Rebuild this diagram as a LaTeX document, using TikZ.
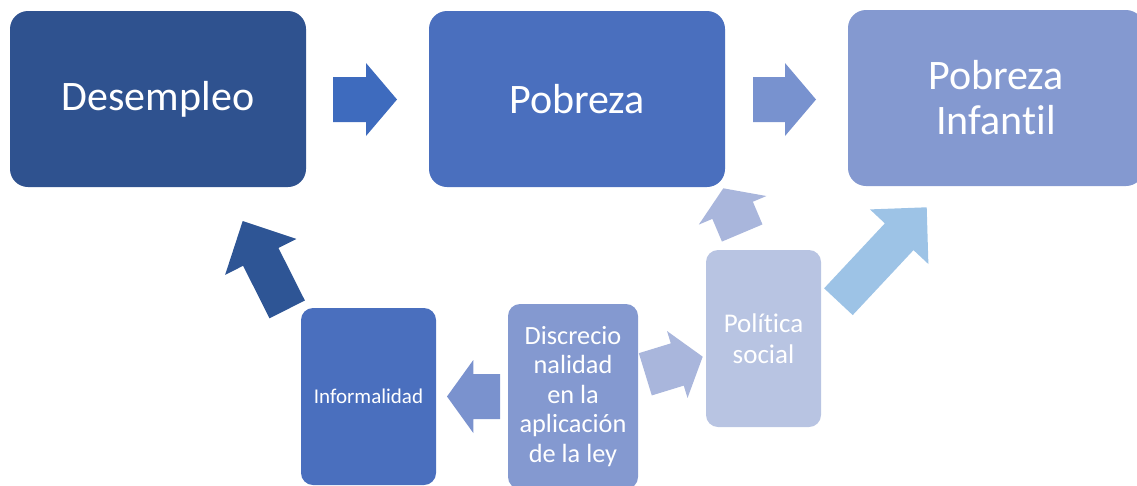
\documentclass[tikz,border=0pt]{standalone}
\usepackage{fontspec}
\setmainfont{Carlito}[Ligatures=NoCommon]
\usetikzlibrary{calc}
\definecolor{cDes}{HTML}{2F528F}
\definecolor{cPob}{HTML}{4A6FBE}
\definecolor{cInf}{HTML}{8499D0}
\definecolor{cDis}{HTML}{8499D0}
\definecolor{cPol}{HTML}{B8C4E2}
\definecolor{aOne}{HTML}{3E6BBE}
\definecolor{aTwo}{HTML}{7892CF}
\definecolor{aThree}{HTML}{2E5595}
\definecolor{aFour}{HTML}{7A92CE}
\definecolor{aFive}{HTML}{A9B6DC}
\definecolor{aSeven}{HTML}{9DC3E6}
\newcommand\blkarrow[6]{%
  \coordinate (tmpH) at ($(#2)!#5!(#1)$);
  \fill[#6] ($(#1)!#3!90:(#2)$) -- ($(tmpH)!#3!90:(#2)$) -- ($(tmpH)!#4!90:(#2)$)
    -- (#2) -- ($(tmpH)!#4!-90:(#2)$) -- ($(tmpH)!#3!-90:(#2)$) -- ($(#1)!#3!-90:(#2)$) -- cycle;}
\tikzset{
  box/.style={rectangle, draw=none, text=white, align=center, inner sep=0pt},
  bigbox/.style={box, minimum width=296pt, minimum height=176pt, rounded corners=18pt,
    font=\fontsize{42}{45}\selectfont},
  smallbox/.style={box, rounded corners=12pt}
}
\begin{document}
\begin{tikzpicture}[x=1pt,y=-1pt]
\useasboundingbox (0,0) rectangle (1137,485);
\clip (0,0) rectangle (1137,485);
% boxes
\node[bigbox, fill=cDes] (des) at (158,99) {Desempleo};
\node[bigbox, fill=cPob] (pob) at (577,99) {Pobreza};
\node[bigbox, fill=cInf] (inf) at (996,98) {Pobreza\\Infantil};
\node[smallbox, fill=cPob, minimum width=135pt, minimum height=177pt,
  font=\fontsize{21}{25}\selectfont] (infor) at (368.5,396.5) {Informalidad};
\node[smallbox, fill=cDis, minimum width=130pt, minimum height=185pt,
  font=\fontsize{26.3}{29.5}\selectfont] (dis) at (573,396.5) {Discrecio\\nalidad\\en la\\aplicación\\de la ley};
\node[smallbox, fill=cPol, minimum width=115pt, minimum height=177pt,
  font=\fontsize{27}{31.5}\selectfont] (pol) at (763.5,338.5) {Política\\social};
% arrow end points
\coordinate (a1s) at (333,99.5);   \coordinate (a1t) at (397,99.5);
\coordinate (a2s) at (753,99.5);   \coordinate (a2t) at (816,99.5);
\coordinate (a3s) at (287.2,309.4); \coordinate (a3t) at (242.7,221);
\coordinate (a4s) at (500,396.5);  \coordinate (a4t) at (447,396.5);
\coordinate (a5s) at (645.3,374.3); \coordinate (a5t) at (702.7,356.7);
\coordinate (a6s) at (742.2,233);  \coordinate (a6t) at (723.3,188.3);
\coordinate (a7s) at (838.4,301.7); \coordinate (a7t) at (926.7,207.3);
% arrows
\blkarrow{a1s}{a1t}{22.5pt}{36.5pt}{31pt}{aOne}
\blkarrow{a2s}{a2t}{22.5pt}{36.5pt}{31pt}{aTwo}
\blkarrow{a3s}{a3t}{19.8pt}{39.9pt}{40.2pt}{aThree}
\blkarrow{a4s}{a4t}{22.5pt}{36.5pt}{26.3pt}{aFour}
\blkarrow{a5s}{a5t}{22.1pt}{35pt}{26.6pt}{aFive}
\blkarrow{a6s}{a6t}{22pt}{36.7pt}{23.9pt}{aFive}
\blkarrow{a7s}{a7t}{19.6pt}{40pt}{40.3pt}{aSeven}
\end{tikzpicture}
\end{document}
